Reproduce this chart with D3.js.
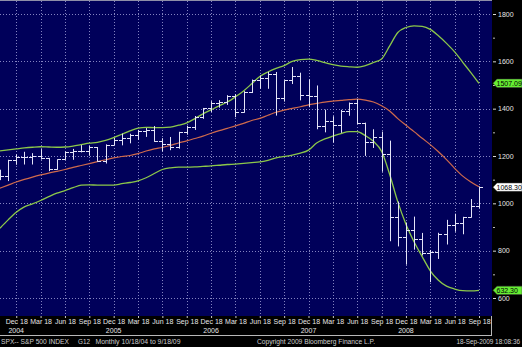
<!DOCTYPE html>
<html><head><meta charset="utf-8">
<script src="https://cdn.jsdelivr.net/npm/d3@7"></script>
<style>
html,body{margin:0;padding:0;background:#000;}
svg{display:block;}
text{font-family:"Liberation Sans",Arial,sans-serif;}
</style>
</head><body>
<svg id="c" width="522" height="347"></svg>
<script>
// ---- data (monthly periods ending on the 18th) ----
const months = ["2004-10","2004-11","2004-12",
 "2005-01","2005-02","2005-03","2005-04","2005-05","2005-06","2005-07","2005-08","2005-09","2005-10","2005-11","2005-12",
 "2006-01","2006-02","2006-03","2006-04","2006-05","2006-06","2006-07","2006-08","2006-09","2006-10","2006-11","2006-12",
 "2007-01","2007-02","2007-03","2007-04","2007-05","2007-06","2007-07","2007-08","2007-09","2007-10","2007-11","2007-12",
 "2008-01","2008-02","2008-03","2008-04","2008-05","2008-06","2008-07","2008-08","2008-09","2008-10","2008-11","2008-12",
 "2009-01","2009-02","2009-03","2009-04","2009-05","2009-06","2009-07","2009-08","2009-09"];
const openVals = [1128,1114,1183.5,1194,1196,1201.6,1189.7,1146,1185.6,1217,1221,1220.2,1237.9,1178.1,1248.3,1267.3,1277.9,1287.2,1307.3,1311.3,1261.8,1251.5,1236.9,1302.3,1321.2,1365.8,1401.2,1422.5,1426.4,1455.5,1387,1471.5,1522.8,1531,1546.2,1445.9,1519.8,1540.1,1458.7,1455,1325.2,1350,1330.7,1390.3,1425.4,1337.8,1260.7,1278.6,1206.5,940.6,859.1,885.3,850.1,788.4,794.4,869.6,909.7,918.4,940.4,989.7];
const highVals = [1142,1184,1207,1217.8,1212,1229,1192,1186,1219,1230,1245.9,1243,1238,1249,1275.8,1294.9,1294,1310,1318,1326.7,1275,1280.4,1302.3,1328,1369,1403,1431.8,1436,1457,1461.6,1474,1523,1540.6,1555.9,1555,1520,1576.1,1552,1523.6,1498,1396,1368,1395,1426,1440.2,1341,1313,1303,1265,1007.5,918.9,943.9,875,803,875.6,930.2,956.2,943,1018,1071.5];
const lowVals = [1098,1094,1163,1164,1164,1185,1136,1142,1184,1184,1215,1201,1176,1168.2,1246,1245,1253.6,1268,1280.7,1260,1219.3,1224.5,1231,1290,1310,1357,1386,1404,1416,1364,1383,1466,1484.2,1484,1370.6,1430,1504,1435,1406.1,1313,1300,1257,1298,1370,1335,1200.4,1234,1133.5,839.8,818,741,804.3,780,666.8,765,826,880,869.3,940,978.5];
const closeVals = [1114,1183.5,1194,1196,1201.6,1189.7,1146,1185.6,1217,1221,1220.2,1237.9,1178.1,1248.3,1267.3,1277.9,1287.2,1307.3,1311.3,1261.8,1251.5,1236.9,1302.3,1321.2,1365.8,1401.2,1422.5,1426.4,1455.5,1387,1471.5,1522.8,1531,1546.2,1445.9,1519.8,1540.1,1458.7,1455,1325.2,1350,1330.7,1390.3,1425.4,1337.8,1260.7,1278.6,1206.5,940.6,859.1,885.3,850.1,788.4,794.4,869.6,909.7,918.4,940.4,989.7,1068.3];
const upperBand = [1222,1226,1230,1234,1237,1239,1238,1237,1238,1242,1248,1254,1258,1266,1278,1292,1306,1318,1321,1320,1320,1322,1330,1340,1358,1378,1395,1412,1428,1450,1475,1505,1536,1555,1570,1582,1600,1607,1609,1604,1595,1586,1580,1577,1575,1582,1595,1610,1665,1722,1743,1750,1748,1735,1708,1676,1640,1596,1552,1507.09];
const midBand = [1064,1077,1090,1101,1111,1120,1128,1135,1143,1152,1160,1168,1176,1184,1192,1198,1202,1210,1221,1230,1236,1245,1255,1264,1274,1284,1296,1307,1317,1327,1338,1350,1359,1372,1385,1394,1401,1408,1416,1422,1428,1432,1435,1438,1440,1436,1428,1412,1390,1358,1330,1303,1275,1248,1218,1185,1148,1115,1090,1069.7];
const lowerBand = [895,930,962,985,998,1012,1028,1043,1054,1066,1077,1078,1077,1077,1077,1083,1088,1095,1108,1126,1143,1150,1153,1153,1154,1156,1158,1161,1164,1166,1169,1172,1175,1182,1192,1198,1204,1212,1225,1255,1272,1284,1295,1303,1303,1286,1262,1220,1122,1006,912,838,775,715,675,650,638,631,630,632.3];
const tickMonths = ["2004-12","2005-03","2005-06","2005-09","2005-12","2006-03","2006-06","2006-09","2006-12","2007-03","2007-06","2007-09","2007-12","2008-03","2008-06","2008-09","2008-12","2009-03","2009-06","2009-09"];
const tickLabels = ["Dec 18","Mar 18","Jun 18","Sep 18","Dec 18","Mar 18","Jun 18","Sep 18","Dec 18","Mar 18","Jun 18","Sep 18","Dec 18","Mar 18","Jun 18","Sep 18","Dec 18","Mar 18","Jun 18","Sep 18"];
const yearMonths = ["2004-12","2005-12","2006-12","2007-12","2008-12"];
const yearLabels = ["2004","2005","2006","2007","2008"];
const yTicks = [600,800,1000,1200,1400,1600,1800];
const yMinorTicks = [700,900,1100,1300,1500,1700];

// ---- drawing ----
const W = 522, H = 347;
const PL = 0, PT = 1, PR = 492, PB = 316;
const svg = d3.select("#c");
svg.append("rect").attr("width", W).attr("height", H).attr("fill", "#000");
svg.append("rect").attr("x", PL).attr("y", PT).attr("width", PR - PL).attr("height", PB - PT).attr("fill", "#00005a");
svg.append("line").attr("x1", 0).attr("x2", PR).attr("y1", 0.5).attr("y2", 0.5).attr("stroke", "#8f8fa8");

svg.append("defs").append("clipPath").attr("id", "clip")
  .append("rect").attr("x", PL).attr("y", PT).attr("width", PR - PL).attr("height", PB - PT);

const x = d3.scalePoint().domain(months).range([0, 479]);
const y = d3.scaleLinear().domain([600, 1800]).range([298, 14]);
const px = m => Math.round(x(m)) + 0.5;
const py = v => Math.round(y(v)) + 0.5;

const g = svg.append("g").attr("clip-path", "url(#clip)");
const gridColor = "#9a9ad2";
g.selectAll(".hg").data(yTicks).join("line").attr("class", "hg")
  .attr("x1", PL).attr("x2", PR).attr("y1", d => py(d)).attr("y2", d => py(d))
  .attr("stroke", gridColor).attr("stroke-dasharray", "1,2").attr("stroke-opacity", 0.85);
g.selectAll(".vg").data(tickMonths).join("line").attr("class", "vg")
  .attr("x1", d => px(d)).attr("x2", d => px(d)).attr("y1", PT).attr("y2", PB)
  .attr("stroke", gridColor).attr("stroke-dasharray", "1,2").attr("stroke-opacity", 0.85);

const line = d3.line().x((d, i) => x(months[i])).y(d => y(d)).curve(d3.curveMonotoneX);
g.append("path").datum(midBand).attr("d", line).attr("fill", "none").attr("stroke", "#cf6a4c").attr("stroke-width", 1.2);
g.append("path").datum(upperBand).attr("d", line).attr("fill", "none").attr("stroke", "#8cc84a").attr("stroke-width", 1.3);
g.append("path").datum(lowerBand).attr("d", line).attr("fill", "none").attr("stroke", "#8cc84a").attr("stroke-width", 1.3);

const barColor = "#e4e4f8";
const bars = g.selectAll(".bar").data(months).join("g").attr("class", "bar");
bars.append("line").attr("x1", d => px(d)).attr("x2", d => px(d))
  .attr("y1", (d, i) => y(highVals[i])).attr("y2", (d, i) => y(lowVals[i]))
  .attr("stroke", barColor).attr("stroke-width", 1);
bars.append("line").attr("x1", d => px(d) - 3.5).attr("x2", d => px(d))
  .attr("y1", (d, i) => py(openVals[i])).attr("y2", (d, i) => py(openVals[i]))
  .attr("stroke", barColor).attr("stroke-width", 1);
bars.append("line").attr("x1", d => px(d)).attr("x2", d => px(d) + 3.5)
  .attr("y1", (d, i) => py(closeVals[i])).attr("y2", (d, i) => py(closeVals[i]))
  .attr("stroke", barColor).attr("stroke-width", 1);

// right axis
const ya = svg.append("g").attr("transform", "translate(493,0)")
  .call(d3.axisRight(y).tickValues(yTicks).tickSize(3).tickPadding(2).tickFormat(d3.format("d")));
ya.select(".domain").remove();
ya.selectAll(".tick line").attr("stroke", "#d8d8d8");
ya.selectAll(".tick text").attr("fill", "#e6e6e6").style("font-size", "7px").style("font-family", "'Liberation Sans',Arial,sans-serif");
const ym = svg.append("g").attr("transform", "translate(493,0)")
  .call(d3.axisRight(y).tickValues(yMinorTicks).tickSize(2).tickFormat(""));
ym.select(".domain").remove();
ym.selectAll(".tick line").attr("stroke", "#bcbcbc");

// last-value tags
const tags = [
  {v: upperBand[upperBand.length - 1], fill: "#66ee33"},
  {v: closeVals[closeVals.length - 1], fill: "#ffffff"},
  {v: lowerBand[lowerBand.length - 1], fill: "#66ee33"}
];
tags.forEach(t => {
  const yc = y(t.v);
  svg.append("path")
    .attr("d", `M493,${yc} L497,${yc - 4.2} L522,${yc - 4.2} L522,${yc + 4.2} L497,${yc + 4.2} Z`)
    .attr("fill", t.fill).attr("stroke", "#404040").attr("stroke-width", 0.5);
  svg.append("text").attr("x", 496.5).attr("y", yc + 2.6).attr("fill", "#000")
    .style("font-size", "7px").text(d3.format(".2f")(t.v));
});

// bottom axis
const xa = svg.append("g").attr("transform", `translate(0,${PB})`)
  .call(d3.axisBottom(x).tickValues(tickMonths).tickSize(2).tickPadding(1)
    .tickFormat((d) => tickLabels[tickMonths.indexOf(d)]));
xa.select(".domain").remove();
xa.selectAll(".tick line").attr("stroke", "#c8c8c8");
xa.selectAll(".tick text").attr("fill", "#e6e6e6").style("font-size", "7px").style("font-family", "'Liberation Sans',Arial,sans-serif");
svg.selectAll(".yr").data(yearMonths).join("text").attr("class", "yr")
  .attr("x", d => x(d)).attr("y", 332.5).attr("text-anchor", "middle")
  .attr("fill", "#e6e6e6").style("font-size", "7px")
  .text((d, i) => yearLabels[i]);
svg.append("line").attr("x1", 0).attr("x2", PR).attr("y1", 335.5).attr("y2", 335.5).attr("stroke", "#b8b8b8");
svg.append("line").attr("x1", PR - 0.5).attr("x2", PR - 0.5).attr("y1", PB).attr("y2", 336).attr("stroke", "#b8b8b8");

// status bar
const status = [
  {t: "SPX-- S&P 500 INDEX", x: 1, len: 68},
  {t: "G12", x: 78, len: 12},
  {t: "Monthly  10/18/04 to 9/18/09", x: 95.5, len: 85},
  {t: "Copyright 2009 Bloomberg Finance L.P.", x: 257, len: 118}
];
status.forEach(s => {
  svg.append("text").attr("x", s.x).attr("y", 344.3).attr("fill", "#cfcfcf")
    .attr("textLength", s.len).attr("lengthAdjust", "spacingAndGlyphs")
    .style("font-size", "7px").text(s.t);
});
svg.append("text").attr("x", 520).attr("y", 344.3).attr("fill", "#cfcfcf")
  .attr("text-anchor", "end").style("font-size", "6.4px").text("18-Sep-2009 18:08:36");
</script>
</body></html>
